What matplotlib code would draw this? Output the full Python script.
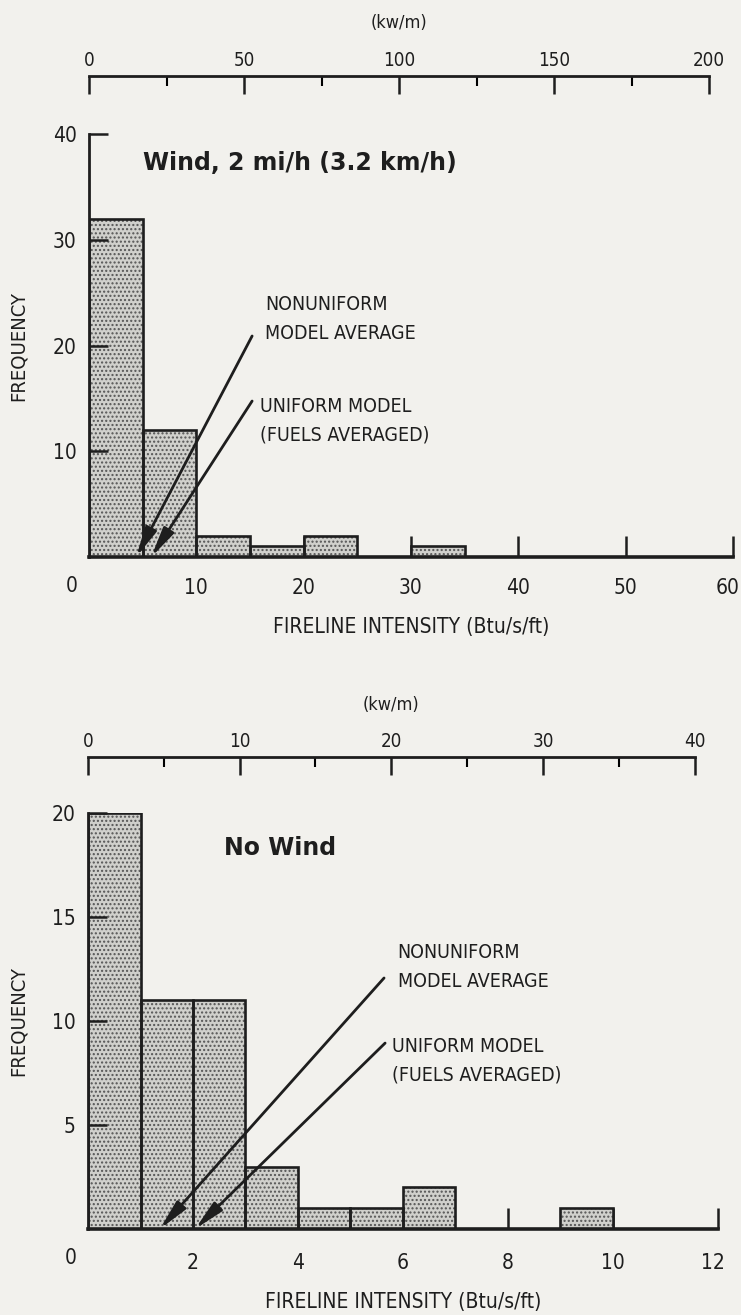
import matplotlib as mpl
mpl.use('Agg')
import matplotlib.pyplot as plt
from matplotlib.transforms import ScaledTranslation

# Histogram data (Btu/s/ft bins)
wind_left = [0, 5, 10, 15, 20, 30]
wind_freq = [32, 12, 2, 1, 2, 1]
wind_width = 5
wind_nonuniform = 4.4   # nonuniform model average
wind_uniform = 5.8      # uniform model (fuels averaged)

calm_left = [0, 1, 2, 3, 4, 5, 6, 9]
calm_freq = [20, 11, 11, 3, 1, 1, 2, 1]
calm_width = 1
calm_nonuniform = 1.37
calm_uniform = 2.04

KW_PER_BTU = 3.4613  # 1 Btu/s/ft = 3.4613 kW/m

narrow = ['Liberation Sans Narrow', 'DejaVu Sans']
bold = ['DejaVu Sans']
ink = '#1e1e1e'
bg = '#f2f1ed'

plt.rcParams['font.stretch'] = 'condensed'
plt.rcParams['hatch.color'] = '#555555'
plt.rcParams['hatch.linewidth'] = 1.0


def histo(ax, left, freq, width):
    # stipple fill first, then the black outlines
    ax.bar(left, freq, width=width, align='edge', color='#d0d0cc',
           hatch='....', edgecolor='#555555', linewidth=0, zorder=1)
    ax.bar(left, freq, width=width, align='edge', fill=False,
           edgecolor=ink, linewidth=1.9, zorder=1.5)


def habiller(ax, xmax, ymax, xticks, yticks, kw_major, kw_minor, xpad, top_loc):
    ax.set_facecolor(bg)
    ax.set_xlim(0, xmax)
    ax.set_ylim(0, ymax)
    for s in ['top', 'right']:
        ax.spines[s].set_visible(False)
    ax.spines['left'].set_linewidth(2.0)
    ax.spines['bottom'].set_linewidth(2.6)
    ax.spines['left'].set_color(ink)
    ax.spines['bottom'].set_color(ink)

    ax.set_xticks(xticks)
    ax.set_yticks(yticks)
    ax.tick_params(axis='x', direction='in', length=15, width=1.8, pad=xpad,
                   labelsize=15, colors=ink)
    ax.tick_params(axis='y', direction='in', length=14, width=1.8, pad=9,
                   labelsize=15, colors=ink)
    for lab in ax.get_xticklabels() + ax.get_yticklabels():
        lab.set_family(narrow)
    # last x label sits right on the figure edge: nudge it in a little
    last = ax.get_xticklabels()[-1]
    last.set_transform(last.get_transform() +
                       ScaledTranslation(-5 / 100, 0, ax.figure.dpi_scale_trans))
    # x ticks hidden behind bars, y ticks drawn over them
    ax.xaxis.set_zorder(0.5)
    ax.yaxis.set_zorder(2.5)

    # corner zero
    ax.annotate('0', xy=(0, 0), xytext=(-12.5, -21), textcoords='offset points',
                ha='center', va='center', fontsize=15, family=narrow, color=ink)

    ax.set_xlabel('FIRELINE INTENSITY (Btu/s/ft)', fontsize=15, family=narrow,
                  color=ink, labelpad=14)
    ax.set_ylabel('FREQUENCY', fontsize=14.5, family=narrow, color=ink)
    ax.yaxis.set_label_coords(-0.095, 0.5)

    # kW/m scale above the plot
    sec = ax.secondary_xaxis(top_loc, functions=(lambda b: b * KW_PER_BTU,
                                                 lambda k: k / KW_PER_BTU))
    sec.set_xticks(kw_major)
    sec.set_xticks(kw_minor, minor=True)
    sec.tick_params(which='major', direction='in', length=13, width=1.8,
                    pad=4, labelsize=13.5, colors=ink)
    sec.tick_params(which='minor', direction='in', length=7, width=1.5)
    for lab in sec.get_xticklabels():
        lab.set_family(narrow)
    sec.spines['top'].set_linewidth(2.0)
    sec.spines['top'].set_color(ink)
    sec.spines['top'].set_bounds(kw_major[0], kw_major[-1])
    ax.text((kw_major[-1] / 2) / KW_PER_BTU / xmax, top_loc + 0.125, '(kw/m)',
            transform=ax.transAxes, ha='center', va='center', fontsize=13,
            family=narrow, color=ink)
    return sec


def fleche(ax, x_bout, x_haut, y_haut):
    ax.annotate('', xy=(x_bout, 0), xytext=(x_haut, y_haut),
                arrowprops=dict(arrowstyle='-|>,head_length=0.9,head_width=0.18',
                                mutation_scale=20, lw=2.0, color=ink,
                                shrinkA=0, shrinkB=0), zorder=3)


fig = plt.figure(figsize=(7.41, 13.15), dpi=100)
fig.patch.set_facecolor(bg)

# ---- Wind panel ----
ax1 = fig.add_axes([0.1201, 0.5764, 0.869, 0.3217])
histo(ax1, wind_left, wind_freq, wind_width)
habiller(ax1, 60, 40, [10, 20, 30, 40, 50, 60], [10, 20, 30, 40],
         [0, 50, 100, 150, 200], [25, 75, 125, 175], 15, 1.137)
ax1.text(5.0, 37.3, 'Wind, 2 mi/h (3.2 km/h)', fontsize=17, fontweight='bold',
         family=bold, stretch='normal', color=ink, va='center')
ax1.text(16.4, 22.5, 'NONUNIFORM\nMODEL AVERAGE', fontsize=14, family=narrow,
         color=ink, va='center', linespacing=1.65)
ax1.text(15.9, 12.9, 'UNIFORM MODEL\n(FUELS AVERAGED)', fontsize=14, family=narrow,
         color=ink, va='center', linespacing=1.65)
fleche(ax1, wind_nonuniform, 15.2, 20.9)
fleche(ax1, wind_uniform, 15.2, 14.75)

# ---- No wind panel ----
ax2 = fig.add_axes([0.1188, 0.0654, 0.850, 0.3163])
histo(ax2, calm_left, calm_freq, calm_width)
habiller(ax2, 12, 20, [2, 4, 6, 8, 10, 12], [5, 10, 15, 20],
         [0, 10, 20, 30, 40], [5, 15, 25, 35], 17, 1.135)
ax2.text(2.6, 18.3, 'No Wind', fontsize=17, fontweight='bold',
         family=bold, stretch='normal', color=ink, va='center')
ax2.text(5.9, 12.6, 'NONUNIFORM\nMODEL AVERAGE', fontsize=14, family=narrow,
         color=ink, va='center', linespacing=1.65)
ax2.text(5.8, 8.1, 'UNIFORM MODEL\n(FUELS AVERAGED)', fontsize=14, family=narrow,
         color=ink, va='center', linespacing=1.65)
fleche(ax2, calm_nonuniform, 5.64, 12.07)
fleche(ax2, calm_uniform, 5.66, 8.94)

fig.savefig('out.png', dpi=100, facecolor=bg)
